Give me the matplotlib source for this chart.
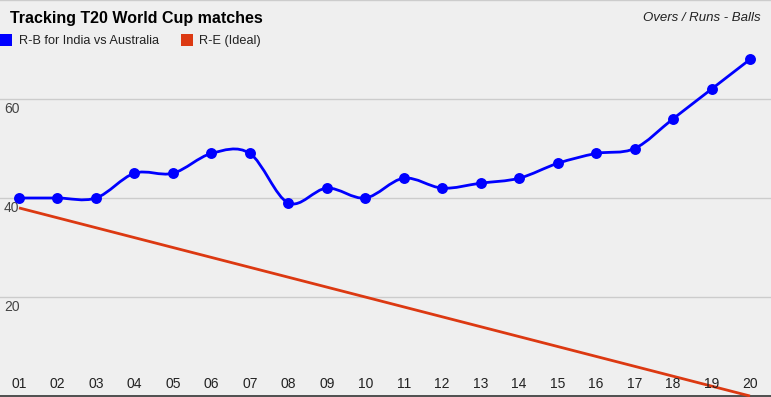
import matplotlib
matplotlib.use("Agg")
import matplotlib.pyplot as plt
import numpy as np
from matplotlib.path import Path
from matplotlib.patches import PathPatch, Rectangle

plt.rcParams['font.family'] = ['Liberation Sans', 'DejaVu Sans']

# data
overs = ["01", "02", "03", "04", "05", "06", "07", "08", "09", "10",
         "11", "12", "13", "14", "15", "16", "17", "18", "19", "20"]
rb_india_aus = [40, 40, 40, 45, 45, 49, 49, 39, 42, 40,
                44, 42, 43, 44, 47, 49, 50, 56, 62, 68]
re_ideal = [38, 36, 34, 32, 30, 28, 26, 24, 22, 20,
            18, 16, 14, 12, 10, 8, 6, 4, 2, 0]
y_ticks = [20, 40, 60, 80]
y_labels = [20, 40, 60]

bg = "#efefef"
blue = "#0000ff"
red = "#dc3912"

fig = plt.figure(figsize=(7.71, 3.97), dpi=100, facecolor=bg)
ax = fig.add_axes([0, 0, 1, 1], facecolor=bg)

x = np.arange(1, len(overs) + 1)
px = 731 / 19.0
ax.set_xlim(1 - 19 / px, 20 + 21 / px)
ax.set_ylim(-0.2, 80)

for s in ax.spines.values():
    s.set_visible(False)
ax.set_xticks([])
ax.set_yticks([])

# gridlines
for t in y_ticks:
    ax.axhline(t, color="#cccccc", lw=1, zorder=1)
ax.axhline(0, color="#333333", lw=1.2, zorder=2)

# ideal line
ax.plot(x, re_ideal, color=red, lw=2, zorder=3, solid_capstyle="butt")

# smooth curve for the India line (bezier through the points)
pts = np.column_stack([x, rb_india_aus]).astype(float)
n = len(pts)
verts = [pts[0]]
codes = [Path.MOVETO]
k = 1 / 6.0
for i in range(n - 1):
    p0 = pts[max(i - 1, 0)]
    p1 = pts[i]
    p2 = pts[i + 1]
    p3 = pts[min(i + 2, n - 1)]
    verts += [p1 + (p2 - p0) * k, p2 - (p3 - p1) * k, p2]
    codes += [Path.CURVE4] * 3
ax.add_patch(PathPatch(Path(verts, codes), facecolor="none", edgecolor=blue,
                       lw=2, zorder=4))
ax.scatter(x, rb_india_aus, s=62, color=blue, zorder=5, linewidths=0)

# axis labels drawn inside the plot
for t in y_labels:
    ax.annotate(str(t), (0, t), xycoords=("figure pixels", "data"),
                xytext=(4, -10), textcoords="offset pixels",
                fontsize=10, color="#444444", ha="left", va="center")
for xi, lab in zip(x, overs):
    ax.annotate(lab, (xi, 0), xycoords=("data", "figure pixels"),
                xytext=(0, 397 - 384), textcoords="offset pixels",
                fontsize=10, color="#222222", ha="center", va="center")

# title, subtitle, legend
fig.text(10 / 771, 1 - 18 / 397, "Tracking T20 World Cup matches",
         fontsize=11.5, fontweight="bold", color="#000000", va="center")
fig.text(761 / 771, 1 - 18 / 397, "Overs / Runs - Balls", fontsize=9.5,
         style="italic", color="#222222", va="center", ha="right")
fig.patches.append(Rectangle((0, 397 - 46), 12, 12, transform=None,
                             facecolor=blue, edgecolor="none"))
fig.text(19 / 771, 1 - 41 / 397, "R-B for India vs Australia", fontsize=9.2,
         color="#222222", va="center")
fig.patches.append(Rectangle((181, 397 - 46), 12, 12, transform=None,
                             facecolor=red, edgecolor="none"))
fig.text(199 / 771, 1 - 41 / 397, "R-E (Ideal)", fontsize=9.2,
         color="#222222", va="center")

fig.savefig("out.png", dpi=100, facecolor=bg)
